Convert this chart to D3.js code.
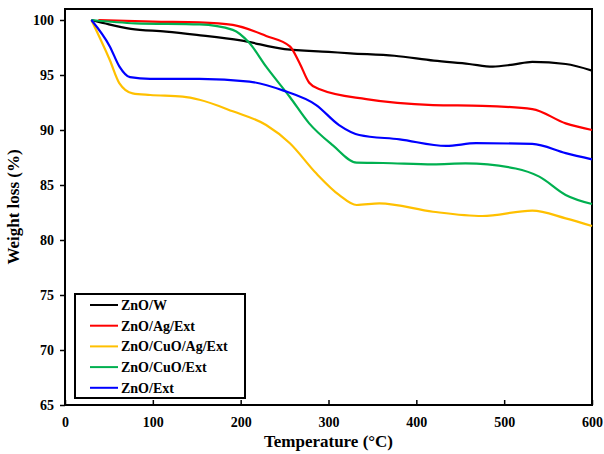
<!DOCTYPE html>
<html>
<head>
<meta charset="utf-8">
<script src="https://cdn.jsdelivr.net/npm/d3@7"></script>
<style>
  body { margin: 0; background: #fff; }
  text { font-family: "Liberation Serif", "Times New Roman", serif; font-weight: bold; }
</style>
</head>
<body>
<div id="chart"></div>
<script>
var seriesNames = ["ZnO/W", "ZnO/Ag/Ext", "ZnO/CuO/Ag/Ext", "ZnO/CuO/Ext", "ZnO/Ext"];
var seriesColors = ["#000000", "#ff0000", "#ffc000", "#00b050", "#0000ff"];
var xTicks = [0, 100, 200, 300, 400, 500, 600];
var yTicks = [65, 70, 75, 80, 85, 90, 95, 100];

// temperature / weight pairs
var znoW = [[30,100],[50,99.6],[75,99.2],[115,98.95],[150,98.65],[200,98.15],[250,97.35],[300,97.1],
    [325,96.97],[375,96.75],[420,96.3],[460,96.0],[487,95.76],[510,95.95],[532,96.2],[570,96.0],[600,95.4]];
var znoAg = [[38,100],[100,99.85],[153,99.78],[191,99.55],[229,98.55],[256,97.6],[267,96.1],[278,94.3],
    [290,93.7],[343,92.8],[419,92.27],[475,92.2],[532,91.9],[570,90.6],[600,90.0]];
var znoCuoAg = [[30,100],[51,96.36],[62,94.24],[77,93.33],[97,93.18],[134,93.03],[153,92.75],[191,91.7],
    [229,90.45],[256,88.8],[286,86.06],[312,84.1],[332,83.18],[358,83.33],[419,82.57],[475,82.18],
    [532,82.67],[570,81.97],[600,81.27]];
var znoCuo = [[30,100],[80,99.7],[153,99.6],[191,99.1],[210,97.9],[229,95.76],[256,93.0],[278,90.6],
    [305,88.6],[332,87.03],[362,87.0],[419,86.88],[456,86.97],[513,86.5],[540,85.76],[570,84.1],[600,83.27]];
var znoExt = [[30,100],[51,97.6],[62,95.76],[74,94.8],[97,94.64],[153,94.64],[210,94.4],[248,93.6],
    [286,92.27],[312,90.45],[335,89.55],[381,89.15],[434,88.55],[468,88.8],[532,88.73],[570,87.9],[600,87.33]];
var seriesData = [znoW, znoAg, znoCuoAg, znoCuo, znoExt];

var margin = { top: 9, right: 12, bottom: 49, left: 65 };
var width = 604 - margin.left - margin.right;
var height = 454 - margin.top - margin.bottom;

var svg = d3.select("#chart")
    .append("svg")
    .attr("width", 604)
    .attr("height", 454)
    .append("g")
    .attr("transform", "translate(" + margin.left + "," + margin.top + ")");

var x = d3.scaleLinear().domain([0, 600]).range([0, width]);
var y = d3.scaleLinear().domain([65, 101]).range([height, 0]);

// x axis, ticks pointing inward
var xAxis = svg.append("g")
    .attr("transform", "translate(0," + height + ")")
    .call(d3.axisBottom(x).tickValues(xTicks).tickSizeInner(-5).tickSizeOuter(0).tickPadding(12));
xAxis.selectAll("text").style("font-size", "14px").attr("fill", "#000");

var yAxis = svg.append("g")
    .call(d3.axisLeft(y).tickValues(yTicks).tickSizeInner(5).tickSizeOuter(0).tickPadding(6));
yAxis.selectAll("text").style("font-size", "14px").attr("fill", "#000");
svg.selectAll(".domain").remove();
svg.selectAll(".tick line").attr("stroke", "#000").attr("stroke-width", 1.5);

// frame
svg.append("rect")
    .attr("x", 0).attr("y", 0)
    .attr("width", width).attr("height", height)
    .attr("fill", "none")
    .attr("stroke", "#000")
    .attr("stroke-width", 2);

var line = d3.line()
    .x(function(d) { return x(d[0]); })
    .y(function(d) { return y(d[1]); })
    .curve(d3.curveMonotoneX);

svg.selectAll("myLines")
    .data(seriesData)
    .enter()
    .append("path")
    .attr("d", function(d) { return line(d); })
    .attr("stroke", function(d, i) { return seriesColors[i]; })
    .attr("stroke-width", 2.2)
    .attr("fill", "none");

// legend
var legend = svg.append("g").attr("transform", "translate(10,285)");
legend.append("rect")
    .attr("x", 0).attr("y", 0)
    .attr("width", 170).attr("height", 104)
    .attr("fill", "#fff")
    .attr("stroke", "#000")
    .attr("stroke-width", 2);

var rows = legend.selectAll("myRows")
    .data(seriesNames)
    .enter()
    .append("g")
    .attr("transform", function(d, i) { return "translate(0," + (11 + i * 20.7) + ")"; });
rows.append("line")
    .attr("x1", 15).attr("x2", 43)
    .attr("y1", 0).attr("y2", 0)
    .attr("stroke", function(d, i) { return seriesColors[i]; })
    .attr("stroke-width", 2);
rows.append("text")
    .attr("x", 46)
    .attr("y", 5)
    .style("font-size", "14px")
    .text(function(d) { return d; });

svg.append("text")
    .attr("x", width / 2)
    .attr("y", height + 42)
    .attr("text-anchor", "middle")
    .style("font-size", "17px")
    .text("Temperature (°C)");

svg.append("text")
    .attr("transform", "translate(-46," + (height / 2) + ") rotate(-90)")
    .attr("text-anchor", "middle")
    .style("font-size", "17px")
    .text("Weight loss (%)");
</script>
</body>
</html>
